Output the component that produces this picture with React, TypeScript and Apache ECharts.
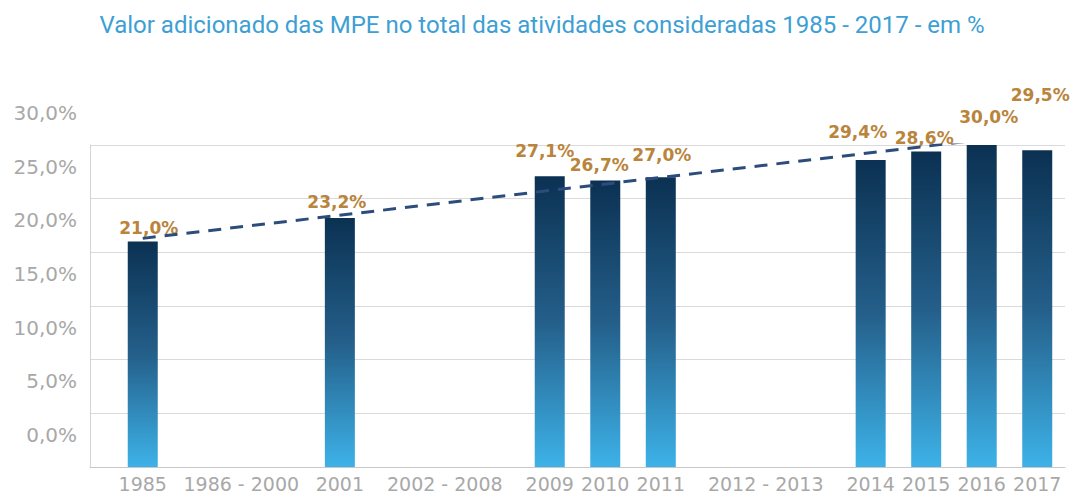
import React, { useEffect, useRef } from "react";
import * as echarts from "echarts";

// ---- data ----
const categories = [
  "1985",
  "1986 - 2000",
  "2001",
  "2002 - 2008",
  "2009",
  "2010",
  "2011",
  "2012 - 2013",
  "2014",
  "2015",
  "2016",
  "2017",
];
const barYears = ["1985", "2001", "2009", "2010", "2011", "2014", "2015", "2016", "2017"];
const barValues = [21.0, 23.2, 27.1, 26.7, 27.0, 28.6, 29.4, 30.0, 29.5];
const barLabels = ["21,0%", "23,2%", "27,1%", "26,7%", "27,0%", "29,4%", "28,6%", "30,0%", "29,5%"];
const trendYears = ["1985", "2017"];
const trendValues = [21.3, 31.1];
const yMin = 0;
const yMax = 30;
const yStep = 5;
const titleText = "Valor adicionado das MPE no total das atividades consideradas 1985 - 2017 - em %";

// ---- layout (widths of each category slot, in year-slot units) ----
const categoryWidths = [1, 2.55, 1, 2.78, 1, 1, 1, 2.78, 1, 1, 1, 1];
const leftPad = 0.45;
const labelOffsets = [
  [6, 0],
  [-3, -2],
  [-5, -11.5],
  [-6, -1.5],
  [1, -8.5],
  [-13, -14.5],
  [-2, 0],
  [7, -14.5],
  [3, -41.5],
];

const centers: number[] = [];
{
  let acc = leftPad;
  categoryWidths.forEach((w) => {
    centers.push(acc + w / 2);
    acc += w;
  });
}
const axisMax = leftPad + categoryWidths.reduce((a, b) => a + b, 0);
const posOf = (c: string) => centers[categories.indexOf(c)];
const pct = (v: number) => v.toFixed(1).replace(".", ",") + "%";

export default function App() {
  const ref = useRef<HTMLDivElement>(null);
  useEffect(() => {
    if (!ref.current) return;
    const chart = echarts.init(ref.current, undefined, { renderer: "svg" });
    chart.setOption({
      animation: false,
      backgroundColor: "#ffffff",
      title: {
        text: titleText,
        left: 537,
        textAlign: "center",
        top: 8,
        textStyle: {
          color: "#3d9fd4",
          fontFamily: "Roboto",
          fontWeight: "normal",
          fontSize: 24,
        },
      },
      grid: [
        { left: 90, right: 14, top: 145, bottom: 26, containLabel: false },
        // the printed tick labels sit higher than the gridlines they belong to
        { left: 90, right: 14, top: 113, bottom: 58, containLabel: false },
      ],
      xAxis: [
        {
          type: "value",
          gridIndex: 0,
          min: 0,
          max: axisMax,
          splitLine: { show: false },
          axisTick: { show: false },
          axisLine: { show: true, lineStyle: { color: "#c8c8c8", width: 1 } },
          axisLabel: {
            customValues: centers,
            margin: 7,
            color: "#a8a8a8",
            fontFamily: "DejaVu Sans",
            fontSize: 19,
            hideOverlap: false,
            formatter: (v: number) => {
              let best = 0;
              centers.forEach((c, i) => {
                if (Math.abs(c - v) < Math.abs(centers[best] - v)) best = i;
              });
              return categories[best];
            },
          },
        },
        {
          type: "value",
          gridIndex: 1,
          min: 0,
          max: axisMax,
          show: false,
        },
      ],
      yAxis: [
        {
          type: "value",
          gridIndex: 0,
          min: yMin,
          max: yMax,
          interval: yStep,
          axisLine: { show: true, lineStyle: { color: "#d4d4d4" } },
          axisTick: { show: false },
          splitLine: { show: true, lineStyle: { color: "#dadada", width: 1 } },
          axisLabel: { show: false },
        },
        {
          type: "value",
          gridIndex: 1,
          min: yMin,
          max: yMax,
          interval: yStep,
          axisLine: { show: false },
          axisTick: { show: false },
          splitLine: { show: false },
          axisLabel: {
            margin: 13,
            color: "#a8a8a8",
            fontFamily: "DejaVu Sans",
            fontSize: 20,
            showMinLabel: true,
            showMaxLabel: true,
            formatter: (v: number) => pct(v),
          },
        },
      ],
      series: [
        {
          type: "bar",
          xAxisIndex: 0,
          yAxisIndex: 0,
          barWidth: 30,
          itemStyle: {
            color: new echarts.graphic.LinearGradient(0, 0, 0, 1, [
              { offset: 0, color: "#0b3152" },
              { offset: 0.5, color: "#245f8a" },
              { offset: 1, color: "#3db2e8" },
            ]),
          },
          label: {
            show: true,
            position: "top",
            distance: 5,
            color: "#b9843c",
            fontFamily: "DejaVu Sans",
            fontWeight: "bold",
            fontSize: 17,
            formatter: (p: any) => barLabels[p.dataIndex],
          },
          data: barYears.map((y, i) => ({
            value: [posOf(y), barValues[i]],
            label: { offset: labelOffsets[i] },
          })),
          z: 2,
        },
        {
          type: "line",
          xAxisIndex: 0,
          yAxisIndex: 0,
          symbol: "none",
          silent: true,
          lineStyle: { color: "#2c4d7c", width: 3, type: [13, 9] },
          data: trendYears.map((y, i) => [posOf(y), trendValues[i]]),
          z: 5,
        },
      ],
    });
    return () => chart.dispose();
  }, []);
  return (
    <div
      ref={ref}
      style={{ position: "absolute", left: 0, top: 0, width: 1079, height: 493 }}
    />
  );
}
